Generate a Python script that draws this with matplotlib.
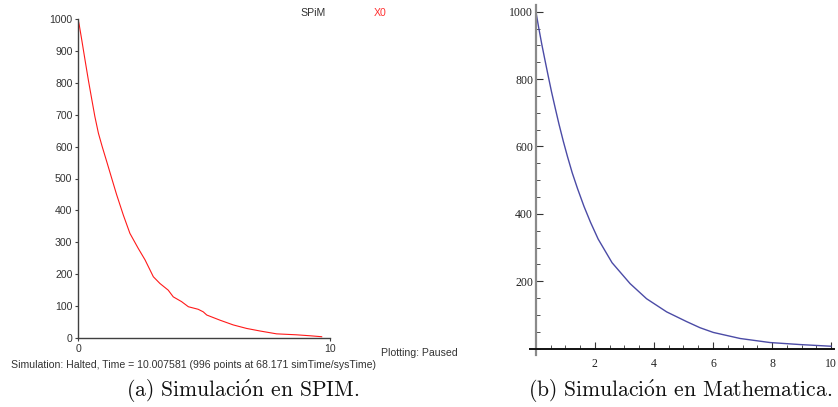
import matplotlib
matplotlib.use("Agg")
import matplotlib.pyplot as plt
from matplotlib.ticker import MultipleLocator, FixedLocator

plt.rcParams["mathtext.fontset"] = "cm"

# SPiM stochastic trace
spim_t = [0, 0.05, 0.15, 0.28, 0.41, 0.54, 0.67, 0.81, 0.96, 1.14, 1.34, 1.53, 1.80,
          2.06, 2.39, 2.66, 2.99, 3.25, 3.58, 3.78, 4.11, 4.38, 4.77, 4.97, 5.11,
          5.63, 6.16, 6.69, 7.22, 7.88, 8.67, 9.21, 9.67]
spim_x0 = [1000, 981, 934, 871, 809, 751, 694, 642, 600, 553, 500, 450, 385,
           328, 281, 245, 192, 171, 150, 129, 114, 98, 90, 82, 72,
           56, 41, 30, 22, 13, 10, 7, 4]

# Mathematica curve
mma_t = [0, 0.09, 0.20, 0.31, 0.42, 0.53, 0.66, 0.78, 0.93, 1.07, 1.23, 1.41, 1.63,
         1.85, 2.11, 2.58, 3.19, 3.75, 4.43, 5.11, 5.56, 6.01, 6.92, 7.93, 8.95, 10.0]
mma_y = [1000, 955, 903, 855, 808, 762, 712, 667, 615, 570, 522, 475, 422,
         375, 325, 255, 193, 148, 109, 80, 62, 48, 30, 18, 12, 7]

spim_yticks = [0, 100, 200, 300, 400, 500, 600, 700, 800, 900, 1000]
spim_xticks = [0, 10]
mma_yticks = [200, 400, 600, 800, 1000]
mma_xticks = [2, 4, 6, 8, 10]

W, H = 838, 407
fig = plt.figure(figsize=(W / 100, H / 100), dpi=100)

def fx(px):
    return px / W

def fy(py):
    return 1 - py / H

#Left panel: SPiM window
ax1 = fig.add_axes([fx(78), fy(338), fx(330) - fx(78), fy(19) - fy(338)])
ax1.plot(spim_t, spim_x0, color="#ff1a1a", lw=0.8)
ax1.set_xlim(0, 10)
ax1.set_ylim(0, 1000)
for s in ["top", "right"]:
    ax1.spines[s].set_visible(False)
for s in ["left", "bottom"]:
    ax1.spines[s].set_color("#404040")
    ax1.spines[s].set_linewidth(1.0)
ax1.set_yticks(spim_yticks)
ax1.set_xticks(spim_xticks)
ax1.tick_params(length=2.5, width=0.8, color="#404040", labelcolor="#333333",
                labelsize=7.6, pad=1.5)
for lab in ax1.get_xticklabels() + ax1.get_yticklabels():
    lab.set_family("Liberation Sans")

sans = dict(family="Liberation Sans", fontsize=7.6, color="#333333", va="center")
fig.text(fx(300), fy(13), "SPiM", ha="left", **sans)
fig.text(fx(374), fy(13), "X0", ha="left", family="Liberation Sans", fontsize=7.6,
         color="#ff3030", va="center")
fig.text(fx(381), fy(353), "Plotting: Paused", ha="left", **sans)
fig.text(fx(11), fy(365),
         "Simulation: Halted, Time = 10.007581 (996 points at 68.171 simTime/sysTime)",
         ha="left", **sans)

#Right panel: Mathematica plot
ax2 = fig.add_axes([fx(530), fy(355), fx(834) - fx(530), fy(5) - fy(355)])
ax2.plot(mma_t, mma_y, color="#4b4ba6", lw=1.0)
ax2.set_xlim(-0.2, 10.1)
ax2.set_ylim(-19, 1020)
for s in ["top", "right"]:
    ax2.spines[s].set_visible(False)
ax2.spines["left"].set_position(("data", 0))
ax2.spines["bottom"].set_position(("data", 0))
ax2.spines["left"].set_color("#8a8a8a")
ax2.spines["left"].set_linewidth(1.6)
ax2.spines["bottom"].set_color("#111111")
ax2.spines["bottom"].set_linewidth(1.4)
ax2.xaxis.set_major_locator(FixedLocator(mma_xticks))
ax2.yaxis.set_major_locator(FixedLocator(mma_yticks))
ax2.xaxis.set_minor_locator(MultipleLocator(0.5))
ax2.yaxis.set_minor_locator(MultipleLocator(50))
ax2.tick_params(which="major", direction="in", length=5, width=0.8, color="#333333",
                labelsize=8.5, labelcolor="#222222")
ax2.tick_params(which="minor", direction="in", length=3, width=0.6, color="#333333")
ax2.tick_params(axis="x", which="major", pad=7)
ax2.tick_params(axis="y", which="major", pad=2)
for lab in ax2.get_xticklabels() + ax2.get_yticklabels():
    lab.set_family("Liberation Serif")

#Captions
cap = dict(family="cmr10", fontsize=15.5, color="#111111", ha="center", va="center")
fig.text(fx(243), fy(391), r"(a) Simulaci$\mathrm{\acute{o}}$n en SPIM.", **cap)
fig.text(fx(680), fy(391), r"(b) Simulaci$\mathrm{\acute{o}}$n en Mathematica.", **cap)

fig.savefig("out.png", dpi=100)
